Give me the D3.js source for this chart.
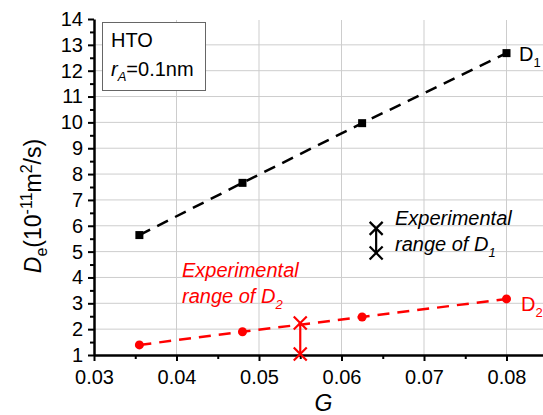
<!DOCTYPE html>
<html>
<head>
<meta charset="utf-8">
<script src="https://cdn.jsdelivr.net/npm/d3@7"></script>
<style>
  body { margin: 0; background: #fff; }
  svg { display: block; font-family: "Liberation Sans", Arial, sans-serif; }
</style>
</head>
<body>
<div id="chart"></div>
<script>
// D1 and D2 (model) vs G
const gValues = [0.0355, 0.048, 0.0625, 0.08];
const d1Values = [5.64, 7.66, 9.97, 12.68];
const d2Values = [1.39, 1.9, 2.47, 3.17];

// experimental ranges
const expD1 = { g: 0.0642, lo: 4.95, hi: 5.9 };
const expD2 = { g: 0.055, lo: 1.04, hi: 2.24 };

const xTicks = [0.03, 0.04, 0.05, 0.06, 0.07, 0.08];
const yTicks = [1, 2, 3, 4, 5, 6, 7, 8, 9, 10, 11, 12, 13, 14];

const width = 543, height = 415;

const svg = d3.select("#chart")
    .append("svg")
    .attr("width", width)
    .attr("height", height);

// scales
const x = d3.scaleLinear().domain([0.03, 0.09]).range([94, 589]);
const y = d3.scaleLinear().domain([1, 14]).range([355, 19]);

// grid
svg.append("g")
    .selectAll("line")
    .data(yTicks.slice(1, -1))
    .join("line")
    .attr("x1", x(0.03)).attr("x2", x(0.09))
    .attr("y1", d => y(d)).attr("y2", d => y(d))
    .attr("stroke", "#cdcdcd").attr("stroke-width", 1);
svg.append("g")
    .selectAll("line")
    .data(xTicks.slice(1))
    .join("line")
    .attr("x1", d => x(d)).attr("x2", d => x(d))
    .attr("y1", y(1)).attr("y2", y(14) + 1)
    .attr("stroke", "#cdcdcd").attr("stroke-width", 1);

// legend box
const box = svg.append("g");
box.append("rect")
    .attr("x", 102.5).attr("y", 22.5)
    .attr("width", 103).attr("height", 68)
    .attr("fill", "#fff").attr("stroke", "#666").attr("stroke-width", 1);
box.append("text")
    .attr("x", 111).attr("y", 47)
    .attr("font-size", 20)
    .text("HTO");
const ra = box.append("text")
    .attr("x", 111).attr("y", 76)
    .attr("font-size", 20);
ra.append("tspan").attr("font-style", "italic").text("r");
ra.append("tspan").attr("font-style", "italic").attr("font-size", 13).attr("dy", 5).text("A");
ra.append("tspan").attr("dy", -5).text("=0.1nm");

// axes
const xAxis = svg.append("g")
    .attr("transform", `translate(0,${y(1)})`)
    .call(d3.axisBottom(x).tickValues(xTicks).tickFormat(d3.format(".2f")).tickSize(6).tickSizeOuter(0));
const xMinor = svg.append("g")
    .attr("transform", `translate(0,${y(1)})`)
    .call(d3.axisBottom(x).tickValues(d3.range(0.035, 0.09, 0.01)).tickFormat("").tickSize(4).tickSizeOuter(0));
const yAxis = svg.append("g")
    .attr("transform", `translate(${x(0.03)},0)`)
    .call(d3.axisLeft(y).tickValues(yTicks).tickSize(6).tickSizeOuter(0));
const yMinor = svg.append("g")
    .attr("transform", `translate(${x(0.03)},0)`)
    .call(d3.axisLeft(y).tickValues(d3.range(1.5, 14, 1)).tickFormat("").tickSize(4).tickSizeOuter(0));

[xAxis, xMinor, yAxis, yMinor].forEach(g => {
    g.select(".domain").attr("stroke", "#000").attr("stroke-width", 2.5);
    g.selectAll(".tick line").attr("stroke", "#000").attr("stroke-width", 2);
});
xMinor.select(".domain").remove();
yMinor.select(".domain").remove();
xAxis.selectAll(".tick text")
    .attr("font-size", 20).attr("font-family", "Liberation Sans, Arial, sans-serif")
    .attr("fill", "#000").attr("y", 29).attr("dy", 0);
yAxis.selectAll(".tick text")
    .attr("font-size", 20).attr("font-family", "Liberation Sans, Arial, sans-serif")
    .attr("fill", "#000").attr("x", -11);

// axis titles
svg.append("text")
    .attr("x", x(0.06) - 27).attr("y", 411)
    .attr("font-size", 23).attr("font-style", "italic")
    .text("G");
const yl = svg.append("text")
    .attr("transform", "translate(41,206) rotate(-90)")
    .attr("text-anchor", "middle")
    .attr("font-size", 23);
yl.append("tspan").attr("font-style", "italic").text("D");
yl.append("tspan").attr("font-size", 16).attr("dy", 6).text("e");
yl.append("tspan").attr("dy", -6).text("(10");
yl.append("tspan").attr("font-size", 16).attr("dy", -9).text("-11");
yl.append("tspan").attr("dy", 9).text("m");
yl.append("tspan").attr("font-size", 16).attr("dy", -9).text("2");
yl.append("tspan").attr("dy", 9).text("/s)");

// series
const line = d3.line().x(d => x(d[0])).y(d => y(d[1]));
const d1 = gValues.map((g, i) => [g, d1Values[i]]);
const d2 = gValues.map((g, i) => [g, d2Values[i]]);

svg.append("path")
    .datum(d1)
    .attr("d", line)
    .attr("fill", "none").attr("stroke", "#000")
    .attr("stroke-width", 2.5).attr("stroke-dasharray", "12,8");
svg.append("g")
    .selectAll("rect")
    .data(d1)
    .join("rect")
    .attr("x", d => x(d[0]) - 4).attr("y", d => y(d[1]) - 4)
    .attr("width", 8).attr("height", 8)
    .attr("fill", "#000");

svg.append("path")
    .datum(d2)
    .attr("d", line)
    .attr("fill", "none").attr("stroke", "#ff0000")
    .attr("stroke-width", 2.5).attr("stroke-dasharray", "12,8");
svg.append("g")
    .selectAll("circle")
    .data(d2)
    .join("circle")
    .attr("cx", d => x(d[0])).attr("cy", d => y(d[1]))
    .attr("r", 4.5)
    .attr("fill", "#ff0000");

// experimental range bars
function rangeBar(r, color) {
    const g = svg.append("g").attr("stroke", color).attr("stroke-width", 2.2);
    const cx = x(r.g);
    g.append("line")
        .attr("x1", cx).attr("x2", cx)
        .attr("y1", y(r.hi)).attr("y2", y(r.lo));
    [r.hi, r.lo].forEach(v => {
        const cy = y(v), s = 6.5;
        g.append("line").attr("x1", cx - s).attr("y1", cy - s).attr("x2", cx + s).attr("y2", cy + s);
        g.append("line").attr("x1", cx - s).attr("y1", cy + s).attr("x2", cx + s).attr("y2", cy - s);
    });
}
rangeBar(expD1, "#000");
rangeBar(expD2, "#ff0000");

// labels
function subLabel(px, py, main, sub, color, size, italic) {
    const t = svg.append("text")
        .attr("x", px).attr("y", py)
        .attr("font-size", size).attr("fill", color);
    if (italic) t.attr("font-style", "italic");
    t.append("tspan").text(main);
    t.append("tspan").attr("font-size", size * 0.65).attr("dy", 6).text(sub);
}
svg.append("text")
    .attr("x", 395).attr("y", 225)
    .attr("font-size", 20).attr("font-style", "italic")
    .text("Experimental");
subLabel(395, 251, "range of D", "1", "#000", 20, true);

svg.append("text")
    .attr("x", 182).attr("y", 277)
    .attr("font-size", 20).attr("font-style", "italic").attr("fill", "#ff0000")
    .text("Experimental");
subLabel(182, 303, "range of D", "2", "#ff0000", 20, true);

subLabel(519, 61, "D", "1", "#000", 20, false);
subLabel(521, 311, "D", "2", "#ff0000", 20, false);
</script>
</body>
</html>
